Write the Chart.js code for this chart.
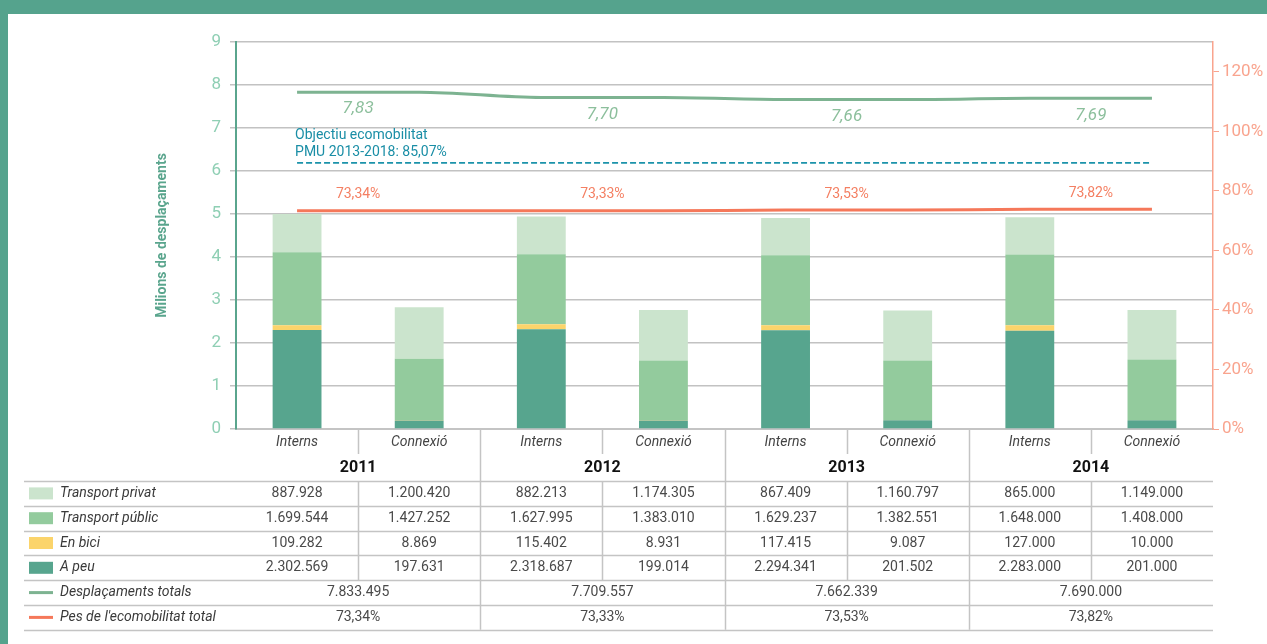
<!DOCTYPE html>
<html>
<head>
<meta charset="utf-8">
<script src="https://cdn.jsdelivr.net/npm/chart.js@4"></script>
<style>
  html, body { margin: 0; padding: 0; background: #fff; }
  #marc { position: absolute; left: 0; top: 0; width: 1267px; height: 644px; box-sizing: border-box;
          border-top: 14px solid #55a38d; border-left: 8px solid #55a38d; }
  #grafic { position: absolute; left: 0; top: 0; }
</style>
</head>
<body>
<div id="marc"></div>
<canvas id="grafic" width="1267" height="644"></canvas>
<script>
// Dades (desplaçaments per àmbit i any)
const anys = ["2011", "2012", "2013", "2014"];
const ambits = ["Interns", "Connexió"];
const transportPrivat = [887928, 1200420, 882213, 1174305, 867409, 1160797, 865000, 1149000];
const transportPublic = [1699544, 1427252, 1627995, 1383010, 1629237, 1382551, 1648000, 1408000];
const enBici = [109282, 8869, 115402, 8931, 117415, 9087, 127000, 10000];
const aPeu = [2302569, 197631, 2318687, 199014, 2294341, 201502, 2283000, 201000];
const desplacamentsTotals = [7833495, 7709557, 7662339, 7690000];
const etiquetesTotals = ["7,83", "7,70", "7,66", "7,69"];
const pesEcomobilitat = [73.34, 73.33, 73.53, 73.82];
const objectiuNivell = 89.4; // posició de la línia d'objectiu al gràfic (eix dret)
const objectiuText = ["Objectiu ecomobilitat", "PMU 2013-2018: 85,07%"];
const ticksEsquerra = [0, 9, 1];
const ticksDreta = [0, 130, 20];

const FONT = "Roboto";
const colPeu = "#57a58e";
const colBici = "#fbd46b";
const colPublic = "#93cb9d";
const colPrivat = "#cbe4cd";
const colTotal = "#7db391";
const colPes = "#f5785a";
const colObjectiu = "#1b93aa";

const categories = anys.flatMap(() => ambits);
const enMilions = arr => arr.map(v => v / 1e6);
const perCategoria = arr => arr.flatMap(v => [v, v]);

function formatMiles(n) {
  return String(n).replace(/\B(?=(\d{3})+(?!\d))/g, ".");
}
function formatPct(n) {
  return n.toFixed(2).replace(".", ",") + "%";
}

// Etiquetes sobre les línies
const etiquetesPlugin = {
  id: "etiquetes",
  afterDatasetsDraw(chart) {
    const ctx = chart.ctx;
    ctx.save();
    ctx.textAlign = "center";
    ctx.textBaseline = "middle";

    const total = chart.getDatasetMeta(4).data;
    ctx.font = "italic 17px " + FONT;
    ctx.fillStyle = "#8cbf9c";
    anys.forEach((a, i) => {
      const p1 = total[2 * i], p2 = total[2 * i + 1];
      ctx.fillText(etiquetesTotals[i], (p1.x + p2.x) / 2, (p1.y + p2.y) / 2 + 17);
    });

    const pes = chart.getDatasetMeta(5).data;
    ctx.font = "14px " + FONT;
    ctx.fillStyle = "#f47f62";
    anys.forEach((a, i) => {
      const p1 = pes[2 * i], p2 = pes[2 * i + 1];
      ctx.fillText(formatPct(pesEcomobilitat[i]), (p1.x + p2.x) / 2, (p1.y + p2.y) / 2 - 16);
    });

    const obj = chart.getDatasetMeta(6).data;
    ctx.font = "14px " + FONT;
    ctx.fillStyle = "#1a8ea6";
    ctx.textAlign = "left";
    ctx.fillText(objectiuText[0], obj[0].x - 2, obj[0].y - 27);
    ctx.fillText(objectiuText[1], obj[0].x - 2, obj[0].y - 10);
    ctx.restore();
  }
};

// Taula de dades sota el gràfic
const taulaPlugin = {
  id: "taula",
  afterDraw(chart) {
    const ctx = chart.ctx;
    const x = chart.scales.x;
    const area = chart.chartArea;
    const base = area.bottom;
    const amp = x.getPixelForValue(1) - x.getPixelForValue(0);
    const topTaula = base + 52;
    const alt = 24.8;
    const esquerra = 24;

    const files = [
      { nom: "Transport privat", color: colPrivat, valors: transportPrivat.map(formatMiles) },
      { nom: "Transport públic", color: colPublic, valors: transportPublic.map(formatMiles) },
      { nom: "En bici", color: colBici, valors: enBici.map(formatMiles) },
      { nom: "A peu", color: colPeu, valors: aPeu.map(formatMiles) },
      { nom: "Desplaçaments totals", color: colTotal, linia: true, valors: desplacamentsTotals.map(formatMiles) },
      { nom: "Pes de l'ecomobilitat total", color: colPes, linia: true, valors: pesEcomobilitat.map(formatPct) }
    ];

    ctx.save();
    ctx.strokeStyle = "#c4c4c4";
    ctx.lineWidth = 1.5;

    // línies horitzontals
    for (let r = 0; r <= files.length; r++) {
      const y = Math.round(topTaula + r * alt) + 0.5;
      ctx.beginPath();
      ctx.moveTo(esquerra, y);
      ctx.lineTo(area.right, y);
      ctx.stroke();
    }
    // separadors verticals
    categories.forEach((c, i) => {
      if (i === 0) return;
      const xs = Math.round(x.getPixelForValue(i) - amp / 2) + 0.5;
      ctx.beginPath();
      if (i % 2 === 0) {
        ctx.moveTo(xs, base);
        ctx.lineTo(xs, topTaula + files.length * alt);
      } else {
        ctx.moveTo(xs, base);
        ctx.lineTo(xs, base + 25);
        ctx.moveTo(xs, topTaula);
        ctx.lineTo(xs, topTaula + 4 * alt);
      }
      ctx.stroke();
    });

    ctx.textAlign = "center";
    ctx.textBaseline = "middle";
    // àmbits
    ctx.font = "italic 14px " + FONT;
    ctx.fillStyle = "#444";
    categories.forEach((c, i) => {
      ctx.fillText(c, x.getPixelForValue(i), base + 13);
    });
    // anys
    ctx.font = "bold 16px " + FONT;
    ctx.fillStyle = "#111";
    anys.forEach((a, i) => {
      ctx.fillText(a, (x.getPixelForValue(2 * i) + x.getPixelForValue(2 * i + 1)) / 2, base + 39);
    });

    files.forEach((f, r) => {
      const yc = topTaula + r * alt + alt / 2;
      // mostra
      ctx.fillStyle = f.color;
      if (f.linia) ctx.fillRect(29, yc - 1.5, 24, 3);
      else ctx.fillRect(29, yc - 6, 24, 12);
      ctx.textAlign = "left";
      ctx.font = "italic 14px " + FONT;
      ctx.fillStyle = "#3a3a3a";
      ctx.fillText(f.nom, 60, yc);
      ctx.textAlign = "center";
      ctx.font = "14px " + FONT;
      ctx.fillStyle = "#4a4a4a";
      if (f.valors.length === categories.length) {
        f.valors.forEach((v, i) => ctx.fillText(v, x.getPixelForValue(i), yc));
      } else {
        f.valors.forEach((v, i) => {
          ctx.fillText(v, (x.getPixelForValue(2 * i) + x.getPixelForValue(2 * i + 1)) / 2, yc);
        });
      }
    });
    ctx.restore();
  }
};

document.addEventListener("DOMContentLoaded", () => {
  const ctx = document.getElementById("grafic").getContext("2d");
  new Chart(ctx, {
    type: "bar",
    data: {
      labels: categories,
      datasets: [
        { label: "A peu", data: enMilions(aPeu), backgroundColor: colPeu, stack: "barres", order: 2 },
        { label: "En bici", data: enMilions(enBici), backgroundColor: colBici, stack: "barres", order: 2 },
        { label: "Transport públic", data: enMilions(transportPublic), backgroundColor: colPublic, stack: "barres", order: 2 },
        { label: "Transport privat", data: enMilions(transportPrivat), backgroundColor: colPrivat, stack: "barres", order: 2 },
        {
          type: "line", label: "Desplaçaments totals", data: perCategoria(enMilions(desplacamentsTotals)),
          borderColor: colTotal, borderWidth: 3, pointRadius: 0, cubicInterpolationMode: "monotone",
          yAxisID: "y", stack: "total", order: 1
        },
        {
          type: "line", label: "Pes de l'ecomobilitat total", data: perCategoria(pesEcomobilitat),
          borderColor: colPes, borderWidth: 3, pointRadius: 0, cubicInterpolationMode: "monotone",
          yAxisID: "y2", stack: "pes", order: 1
        },
        {
          type: "line", label: "Objectiu", data: categories.map(() => objectiuNivell),
          borderColor: colObjectiu, borderWidth: 1.6, borderDash: [6, 3], pointRadius: 0,
          yAxisID: "y2", stack: "objectiu", order: 1
        }
      ]
    },
    options: {
      responsive: false,
      animation: false,
      barPercentage: 0.4,
      categoryPercentage: 1,
      layout: { padding: { left: 150, top: 42, right: 0, bottom: 0 } },
      plugins: {
        legend: { display: false },
        tooltip: { enabled: false }
      },
      scales: {
        x: {
          stacked: true,
          grid: { display: true, drawOnChartArea: false, drawTicks: false },
          border: { color: "#c4c4c4", width: 2 },
          ticks: { display: false },
          afterFit: s => { s.height = 215; }
        },
        y: {
          stacked: true,
          min: ticksEsquerra[0],
          max: ticksEsquerra[1],
          ticks: { stepSize: ticksEsquerra[2], color: "#8fcfb4", font: { family: FONT, size: 17 }, padding: 9 },
          grid: { color: "#c2c2c2", lineWidth: 1.5, tickLength: 6 },
          border: { color: "#5aa58d", width: 2 },
          title: {
            display: true, text: "Milions de desplaçaments", color: "#5aa58d",
            font: { family: FONT, size: 14, weight: "bold" }
          },
          afterFit: s => { s.width = 86; }
        },
        y2: {
          position: "right",
          min: ticksDreta[0],
          max: ticksDreta[1],
          ticks: {
            stepSize: ticksDreta[2], color: "#f9a48e", font: { family: FONT, size: 17 }, padding: 3,
            callback: v => v + "%"
          },
          grid: { drawOnChartArea: false, color: "#f9a48e", tickLength: 6 },
          border: { color: "#f9a48e", width: 1.5 },
          afterBuildTicks: s => { s.ticks = s.ticks.filter(t => t.value <= 120); },
          afterFit: s => { s.width = 54; }
        }
      }
    },
    plugins: [etiquetesPlugin, taulaPlugin]
  });
});
</script>
</body>
</html>
